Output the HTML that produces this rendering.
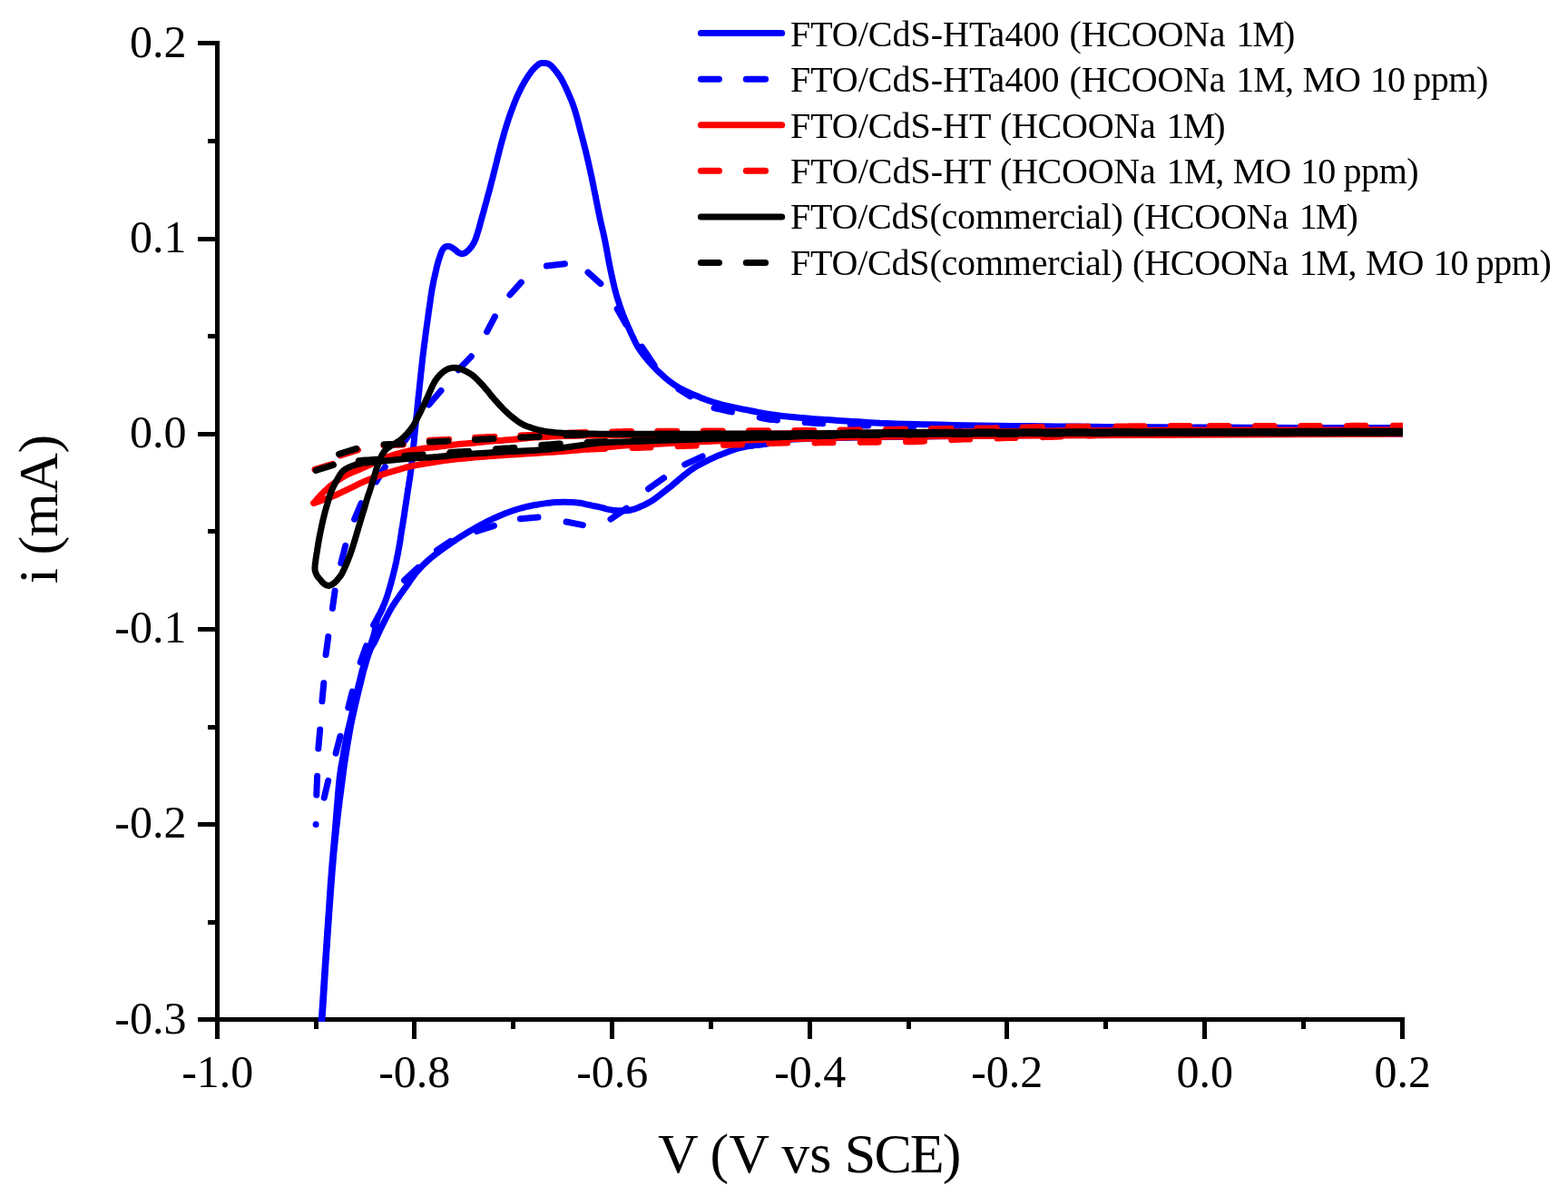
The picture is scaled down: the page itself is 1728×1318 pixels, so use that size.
<!DOCTYPE html>
<html lang="en"><head><meta charset="utf-8"><title>Cyclic voltammetry</title>
<style>html,body{margin:0;padding:0;background:#fff;overflow:hidden}svg{display:block}text{font-family:"Liberation Serif","Times New Roman",serif;fill:#000}</style></head><body>
<svg width="1728" height="1318" viewBox="0 0 1728 1318">
<rect width="1728" height="1318" fill="#fff"/>
<defs><clipPath id="plot"><rect x="237" y="0" width="1309" height="1126"/></clipPath></defs>
<g fill="#000" shape-rendering="crispEdges">
<rect x="237" y="45" width="5" height="1081"/>
<rect x="237" y="1121" width="1311" height="5"/>
<rect x="218" y="45" width="19" height="5"/>
<rect x="229" y="153" width="8" height="5"/>
<rect x="218" y="261" width="19" height="5"/>
<rect x="229" y="368" width="8" height="5"/>
<rect x="218" y="476" width="19" height="5"/>
<rect x="229" y="583" width="8" height="5"/>
<rect x="218" y="691" width="19" height="5"/>
<rect x="229" y="799" width="8" height="5"/>
<rect x="218" y="906" width="19" height="5"/>
<rect x="229" y="1014" width="8" height="5"/>
<rect x="218" y="1121" width="19" height="5"/>
<rect x="237" y="1126" width="5" height="19"/>
<rect x="346" y="1126" width="5" height="8"/>
<rect x="454" y="1126" width="5" height="19"/>
<rect x="563" y="1126" width="5" height="8"/>
<rect x="672" y="1126" width="5" height="19"/>
<rect x="781" y="1126" width="5" height="8"/>
<rect x="890" y="1126" width="5" height="19"/>
<rect x="999" y="1126" width="5" height="8"/>
<rect x="1107" y="1126" width="5" height="19"/>
<rect x="1216" y="1126" width="5" height="8"/>
<rect x="1325" y="1126" width="5" height="19"/>
<rect x="1434" y="1126" width="5" height="8"/>
<rect x="1543" y="1126" width="5" height="19"/>
</g>
<g font-size="50">
<text x="205.4" y="62.6" text-anchor="end">0.2</text>
<text x="205.4" y="277.8" text-anchor="end">0.1</text>
<text x="205.4" y="493" text-anchor="end">0.0</text>
<text x="205.4" y="708.2" text-anchor="end">-0.1</text>
<text x="205.4" y="923.4" text-anchor="end">-0.2</text>
<text x="205.4" y="1138.6" text-anchor="end">-0.3</text>
<text x="239.8" y="1197.6" text-anchor="middle">-1.0</text>
<text x="456.8" y="1197.6" text-anchor="middle">-0.8</text>
<text x="674.8" y="1197.6" text-anchor="middle">-0.6</text>
<text x="892.8" y="1197.6" text-anchor="middle">-0.4</text>
<text x="1109.8" y="1197.6" text-anchor="middle">-0.2</text>
<text x="1327.8" y="1197.6" text-anchor="middle">0.0</text>
<text x="1545.8" y="1197.6" text-anchor="middle">0.2</text>
</g>
<text font-size="62" y="1292.4"><tspan x="725.1">V </tspan><tspan x="782.5">(V </tspan><tspan x="861.3">vs </tspan><tspan x="930.8" textLength="128.7" lengthAdjust="spacing">SCE)</tspan></text>
<text font-size="62" transform="translate(62.8 561) rotate(-90)" text-anchor="middle" textLength="164.5" lengthAdjust="spacing">i (mA)</text>
<g clip-path="url(#plot)" fill="none" stroke-linecap="round" stroke-linejoin="round" stroke-width="7.0">
<path stroke="#0000ff" d="M353.9 1130 L353.9 1130.2 L353.8 1131.2 L353.8 1132 L353.8 1131.7 L353.9 1129.4 L354.3 1124 L354.9 1115 L355.7 1102.9 L356.6 1088.7 L357.6 1073.5 L358.6 1058.3 L359.6 1044 L360.5 1030.1 L361.5 1015.8 L362.5 1001.4 L363.4 987.4 L364.3 974.3 L365.2 962.4 L366 952.1 L366.8 943.1 L367.5 934.9 L368.2 927.1 L368.9 919.4 L369.6 911.2 L370.3 902.4 L371 893.2 L371.8 884.1 L372.5 875.2 L373.2 867.1 L373.9 860 L374.6 854.1 L375.3 849.3 L375.9 845.1 L376.6 841.3 L377.3 837.5 L378 833.5 L378.7 829.2 L379.5 825 L380.3 820.8 L381 816.7 L381.8 812.8 L382.5 809.2 L383.2 806 L383.8 803.2 L384.5 800.6 L385.1 798 L385.8 795.2 L386.5 792.2 L387.3 788.8 L388.1 785.2 L389 781.4 L389.9 777.5 L390.7 773.7 L391.6 770 L392.5 766.3 L393.4 762.4 L394.3 758.6 L395.2 754.9 L396.1 751.5 L396.8 748.5 L397.4 746 L397.9 744 L398.3 742.3 L398.7 740.6 L399.2 738.7 L399.9 736.4 L400.8 733.6 L401.8 730.4 L402.9 727 L404 723.6 L405.1 720.2 L406.2 717 L407.2 714 L408.2 711.2 L409.2 708.4 L410.1 705.6 L411.1 702.8 L411.9 700 L412.7 697 L413.3 693.9 L414 690.8 L414.6 687.8 L415.2 685 L415.9 682.5 L416.6 680.5 L417.3 678.8 L418 677.4 L418.7 676.1 L419.4 674.7 L420.2 673 L421 671.2 L421.8 669.3 L422.7 667.3 L423.6 665.3 L424.4 663.1 L425.3 660.7 L426.2 658.2 L427.1 655.5 L427.9 652.8 L428.8 649.9 L429.7 646.8 L430.6 643.7 L431.5 640.4 L432.4 636.9 L433.3 633.4 L434.2 629.7 L435.1 626.1 L435.9 622.5 L436.7 618.9 L437.4 615.2 L438.2 611.5 L438.9 607.9 L439.5 604.5 L440.1 601.2 L440.6 598.2 L441.1 595.4 L441.4 592.8 L441.8 590.2 L442.2 587.7 L442.6 585 L443 582.4 L443.5 579.8 L443.9 577.3 L444.3 574.6 L444.8 571.7 L445.3 568.5 L445.8 564.9 L446.4 561 L447 556.9 L447.7 552.7 L448.3 548.4 L448.9 544.3 L449.5 540.2 L450.2 536.1 L450.8 532 L451.5 527.9 L452.1 523.9 L452.6 520 L453.1 516.3 L453.5 512.7 L453.9 509.2 L454.2 505.8 L454.6 502.2 L455 498.5 L455.4 494.6 L455.8 490.6 L456.2 486.6 L456.6 482.5 L457 478.4 L457.4 474.3 L457.8 470.3 L458.2 466.3 L458.6 462.3 L459 458.3 L459.5 454.2 L459.9 450 L460.3 445.8 L460.7 441.7 L461.1 437.6 L461.6 433.2 L462.1 428.6 L462.6 423.6 L463.2 418.1 L463.8 412.2 L464.5 406 L465.2 399.6 L465.9 393.2 L466.7 386.9 L467.5 380.5 L468.4 373.9 L469.2 367.2 L470.1 360.6 L471 354.3 L471.8 348.5 L472.5 343.1 L473.3 337.9 L474 332.9 L474.6 328.3 L475.3 324 L475.9 320.1 L476.5 316.6 L477.1 313.7 L477.6 311 L478.1 308.5 L478.7 306 L479.3 303.4 L479.9 300.6 L480.6 297.7 L481.2 294.8 L481.9 292 L482.7 289.2 L483.4 286.7 L484.2 284.3 L485 281.9 L485.8 279.6 L486.6 277.5 L487.5 275.7 L488.4 274.2 L489.3 273.1 L490.3 272.3 L491.3 271.8 L492.3 271.6 L493.3 271.4 L494.3 271.4 L495.3 271.5 L496.2 271.9 L497.2 272.3 L498.2 272.9 L499.1 273.6 L500.1 274.2 L501.1 274.9 L502.1 275.7 L503.1 276.6 L504.1 277.4 L505.1 278.2 L506 278.7 L506.9 279.1 L507.7 279.4 L508.5 279.6 L509.3 279.7 L510.1 279.6 L511 279.4 L511.9 279 L512.9 278.5 L513.8 277.8 L514.8 277 L515.8 276.1 L516.8 275.1 L517.8 274 L518.8 272.7 L519.9 271.4 L520.9 269.9 L521.8 268.3 L522.7 266.7 L523.5 265 L524.2 263.2 L524.9 261.3 L525.5 259.3 L526.1 257.2 L526.8 255 L527.5 252.8 L528.1 250.7 L528.7 248.5 L529.3 246.1 L530.1 243.3 L531 240 L532.1 236.1 L533.4 231.5 L534.7 226.6 L536.1 221.6 L537.4 216.6 L538.7 212 L539.9 207.7 L540.9 203.5 L542 199.4 L543.1 195.3 L544.1 191.1 L545.2 186.9 L546.3 182.5 L547.4 178 L548.5 173.4 L549.7 168.9 L550.8 164.5 L551.9 160.2 L553 156.1 L554.1 152.2 L555.2 148.3 L556.2 144.5 L557.4 140.7 L558.6 136.8 L559.9 132.9 L561.2 128.8 L562.6 124.8 L564.1 120.9 L565.5 117.1 L566.9 113.5 L568.3 110.1 L569.6 106.9 L571 103.8 L572.4 100.9 L573.8 98 L575.3 95.1 L576.9 92.2 L578.6 89.3 L580.3 86.5 L582 83.8 L583.7 81.4 L585.3 79.2 L586.8 77.3 L588.3 75.6 L589.8 74.1 L591.1 72.9 L592.4 71.8 L593.6 70.9 L594.6 70.2 L595.4 69.8 L596.2 69.6 L596.9 69.5 L597.7 69.5 L598.6 69.5 L599.6 69.5 L600.7 69.6 L601.8 69.7 L603 69.9 L604.2 70.3 L605.3 70.9 L606.4 71.6 L607.5 72.5 L608.6 73.6 L609.6 74.7 L610.8 76.1 L612 77.6 L613.3 79.2 L614.5 80.8 L615.8 82.6 L617.2 84.7 L618.7 87.1 L620.3 90.1 L622.1 93.7 L624.1 97.8 L626.1 102.4 L628.2 107.1 L630.2 112 L632 116.8 L633.6 121.6 L635 126.4 L636.4 131.4 L637.7 136.4 L639 141.6 L640.4 146.8 L641.8 152.2 L643.2 157.7 L644.7 163.4 L646.1 169.1 L647.4 174.7 L648.7 180.2 L649.9 185.7 L651.1 191.2 L652.3 196.6 L653.4 202 L654.4 207.1 L655.4 212 L656.3 216.5 L657.1 220.7 L657.9 224.6 L658.7 228.6 L659.5 232.6 L660.4 237 L661.4 241.7 L662.5 246.7 L663.7 251.7 L664.9 256.8 L666 261.9 L667 266.7 L667.9 271.3 L668.7 275.8 L669.5 280.2 L670.3 284.6 L671.1 289 L672 293.4 L672.9 297.9 L673.9 302.4 L674.9 307 L675.9 311.4 L676.9 315.8 L678 320.1 L679.1 324.2 L680.3 328.3 L681.6 332.2 L682.8 336.1 L684.1 339.8 L685.4 343.5 L686.7 347 L688.1 350.4 L689.4 353.7 L690.8 357 L692.3 360.2 L693.8 363.5 L695.3 366.9 L696.9 370.3 L698.5 373.8 L700.2 377.2 L701.9 380.5 L703.8 383.6 L705.8 386.6 L707.9 389.5 L710 392.3 L712.3 395 L714.5 397.7 L716.7 400.2 L718.9 402.6 L721 404.9 L723.2 407.2 L725.4 409.3 L727.7 411.4 L730 413.5 L732.3 415.6 L734.7 417.6 L737.1 419.6 L739.6 421.5 L742.2 423.4 L745 425.2 L748 427 L751.1 428.7 L754.4 430.4 L757.8 432 L761.4 433.6 L765.1 435.2 L768.9 436.8 L772.8 438.4 L776.8 440 L781 441.5 L785.5 443 L790.2 444.4 L795.3 445.8 L800.7 447.1 L806.4 448.4 L812.2 449.6 L817.9 450.8 L823.6 451.9 L829.2 453 L834.7 454.1 L840.3 455.1 L845.9 456.1 L851.4 457 L857 457.8 L862.4 458.5 L867.5 459.1 L872.6 459.6 L878 460.1 L883.8 460.6 L890.3 461.1 L897.8 461.7 L906.2 462.2 L915.1 462.8 L924 463.4 L932.6 463.9 L940.4 464.4 L947 464.8 L952.6 465.2 L957.8 465.6 L963.4 465.9 L969.9 466.3 L978 466.6 L987.7 466.9 L998.4 467.2 L1010.1 467.6 L1022.7 467.8 L1036 468.1 L1050 468.4 L1065 468.7 L1081 468.9 L1097.8 469.2 L1115 469.4 L1132.5 469.6 L1150 469.8 L1167.1 470 L1184.1 470.1 L1201.4 470.2 L1219.2 470.4 L1237.9 470.5 L1258 470.6 L1279.6 470.7 L1302.5 470.9 L1326.4 471 L1350.8 471.1 L1375.5 471.2 L1400 471.3 L1426.3 471.4 L1455 471.4 L1483.9 471.4 L1510.8 471.5 L1533.6 471.5 L1550 471.5"/>
<path stroke="#0000ff" d="M1550 478 L1511.3 478.1 L1457.4 478.1 L1393.8 478.2 L1325.9 478.4 L1259.5 478.6 L1200 479 L1144.3 479.5 L1087.3 480 L1031.6 480.7 L980.1 481.4 L935.3 482.2 L900 483 L876 484 L861.6 485.1 L853.9 486.3 L850.3 487.5 L847.9 488.5 L844 489.3 L839.6 489.8 L837.2 490 L836 490.1 L835.5 490.2 L834.9 490.2 L833.6 490.4 L831.7 490.6 L829.8 490.9 L827.9 491.2 L825.9 491.5 L823.9 491.8 L822 492.2 L820.1 492.6 L818.2 493 L816.2 493.4 L814.3 493.9 L812.4 494.4 L810.5 495 L808.6 495.6 L806.6 496.3 L804.7 497 L802.8 497.7 L800.8 498.4 L798.9 499.2 L797 500 L795 500.7 L793.1 501.5 L791.2 502.3 L789.2 503.1 L787.3 504 L785.4 504.9 L783.4 505.8 L781.5 506.7 L779.6 507.6 L777.6 508.6 L775.7 509.6 L773.8 510.6 L771.9 511.6 L770 512.6 L768 513.7 L766.1 514.8 L764.2 516 L762.3 517.3 L760.3 518.7 L758.4 520.2 L756.5 521.7 L754.5 523.2 L752.6 524.8 L750.7 526.4 L748.7 528 L746.8 529.7 L744.9 531.3 L742.9 533 L741 534.6 L739.1 536.2 L737.1 537.7 L735.2 539.3 L733.3 540.8 L731.3 542.3 L729.4 543.8 L727.5 545.3 L725.6 546.8 L723.6 548.2 L721.7 549.6 L719.8 551 L717.9 552.2 L716 553.3 L714 554.4 L712.1 555.4 L710.2 556.4 L708.2 557.2 L706.3 558.1 L704.4 558.9 L702.4 559.7 L700.5 560.5 L698.6 561.2 L696.6 561.7 L694.7 562.2 L692.8 562.5 L690.8 562.7 L688.9 562.8 L687 562.9 L685 562.8 L683.1 562.8 L681.2 562.7 L679.3 562.6 L677.4 562.4 L675.4 562.2 L673.5 561.9 L671.6 561.6 L669.7 561.2 L667.8 560.8 L665.9 560.2 L664 559.7 L662 559.2 L660 558.7 L657.9 558.2 L655.7 557.8 L653.4 557.3 L651.2 556.8 L649 556.4 L647 556 L645.2 555.6 L643.8 555.2 L642.3 554.9 L640.8 554.5 L639 554.2 L636.7 554 L633.8 553.8 L630.5 553.6 L626.9 553.4 L623.2 553.3 L619.4 553.3 L615.8 553.4 L612.3 553.6 L608.9 553.8 L605.4 554.2 L601.9 554.6 L598.5 555.1 L595 555.6 L591.5 556.2 L588.1 556.8 L584.6 557.5 L581.1 558.2 L577.7 559.1 L574.2 560 L570.7 561 L567.2 562.1 L563.8 563.3 L560.3 564.5 L556.8 565.8 L553.3 567.2 L549.8 568.7 L546.4 570.2 L542.9 571.8 L539.4 573.5 L536 575.2 L532.5 577 L529 578.9 L525.4 580.9 L521.8 583 L518.3 585 L514.9 587.1 L511.7 589 L508.8 590.8 L506.1 592.4 L503.6 594.1 L501.1 595.7 L498.4 597.5 L495.5 599.6 L492.2 601.9 L488.6 604.5 L484.8 607.2 L481.1 610 L477.5 612.8 L474.3 615.4 L471.4 617.9 L468.7 620.4 L466.2 622.8 L463.8 625.2 L461.6 627.7 L459.4 630.1 L457.4 632.6 L455.5 635.1 L453.7 637.6 L452 640.1 L450.4 642.5 L448.8 644.8 L447.3 646.9 L445.8 648.9 L444.4 650.8 L443.1 652.7 L441.7 654.6 L440.3 656.6 L438.9 658.7 L437.4 660.8 L435.9 663 L434.5 665.2 L433.1 667.3 L431.8 669.4 L430.6 671.4 L429.5 673.3 L428.5 675.2 L427.5 677.1 L426.5 679 L425.5 681 L424.4 683.1 L423.4 685.2 L422.3 687.3 L421.2 689.5 L420.2 691.6 L419.1 693.8 L418.1 696 L417 698.3 L416 700.6 L415 702.8 L414 705 L413 707 L412.1 708.7 L411.2 710.2 L410.3 711.6 L409.4 713.1 L408.5 714.8 L407.6 717 L406.6 719.8 L405.5 723 L404.4 726.6 L403.3 730.1 L402.4 733.5 L401.5 736.4 L400.8 738.7 L400.3 740.6 L399.9 742.3 L399.5 744 L399 746 L398.4 748.5 L397.7 751.5 L396.8 754.9 L395.9 758.6 L395 762.4 L394.1 766.3 L393.2 770 L392.3 773.7 L391.4 777.5 L390.5 781.4 L389.7 785.2 L388.8 788.8 L388.1 792.2 L387.5 795.2 L386.9 798 L386.4 800.6 L386 803.2 L385.5 806 L384.9 809.2 L384.3 812.8 L383.6 816.7 L382.9 820.8 L382.2 825 L381.6 829.2 L380.9 833.5 L380.3 837.5 L379.7 841.3 L379.2 845.1 L378.6 849.3 L378 854.1 L377.2 860 L376.3 867.1 L375.2 875.2 L374.1 884.1 L373 893.2 L371.9 902.4 L370.9 911.2 L370 919.4 L369.2 927.1 L368.4 934.9 L367.6 943.1 L366.9 952.1 L366 962.4 L365.1 974.3 L364.1 987.4 L363.1 1001.4 L362.1 1015.8 L361.1 1030.1 L360.2 1044 L359.2 1058.3 L358.2 1073.5 L357.3 1088.7 L356.4 1102.9 L355.6 1115 L355 1124 L354.7 1129.4 L354.5 1131.7 L354.5 1132 L354.5 1131.2 L354.6 1130.2 L354.6 1130"/>
<path stroke="#0000ff" d="M348.1 908.5 L348.1 908.5 M348.8 876.1 L349.6 855.2 M350.8 825 L352.7 804 M354.9 772.8 L356.8 752.8 M359.1 721.6 L361.8 701.6 M366.4 670.4 L369.1 651.1 M375.8 620.6 L380.7 601.4 M390.6 572.2 L398.1 554.6 M414.6 530.9 L424.3 514.6 M443.8 489 L456.2 472 M472.6 446 L486 430.5 M505.2 407.7 L519.3 392.8 M536.6 365.7 L545.4 348.9 M561.9 325 L574.4 311.1 M602.4 293 L622.4 290.7 M648 300.2 L661.9 312.6 M680.2 340.4 L689.9 357.4 M707.4 382.1 L721 402.4 M747.9 428.7 L760.7 436.9 M822.3 491.8 L842.7 489.2 M754.7 511.9 L774.2 502.9 M714.6 538.7 L731.6 526.7 M673 572.1 L690.5 560.1 M624.1 575 L642.3 578.6 M573.4 571.8 L593 570 M525.4 585.4 L544.5 579.3 M481.5 606.5 L496.5 596.5 M445.5 639.6 L460.8 625.4 M411.6 688.9 L421.4 671.1 M397.2 729.9 L403.6 711.8 M383.8 779.9 L388.3 762.1 M370.1 830.1 L375 811.2 M357.2 879.2 L361.7 860.3 M787 449.6 L788.8 450 L791.3 450.5 L794.1 451.2 L796.8 451.8 L799.4 452.4 L802.2 453 L804.7 453.5 L806.5 453.9 M837.1 460.2 L838.9 460.6 L841.4 461.1 L844.2 461.6 L846.9 462.1 L849.5 462.4 L852.3 462.6 L854.8 462.8 L856.6 462.9 M887.2 465.5 L889 465.6 L891.5 465.8 L894.3 466.1 L897 466.2 L899.6 466.4 L902.4 466.5 L904.9 466.6 L906.7 466.7 M937.3 468.2 L939.1 468.3 L941.6 468.4 L944.4 468.6 L947 468.7 L949.7 468.8 L952.5 468.9 L955 468.9 L956.8 468.9 M987.4 469.7 L989.2 469.7 L991.7 469.8 L994.5 469.9 L997.1 469.9 L999.8 470 L1002.6 470 L1005.1 470.1 L1006.9 470.1 M1037.5 470.6 L1039.3 470.6 L1041.8 470.6 L1044.6 470.7 L1047.2 470.7 L1049.9 470.7 L1052.7 470.8 L1055.2 470.8 L1057 470.9 M1087.6 471.3 L1089.4 471.3 L1091.9 471.4 L1094.7 471.4 L1097.3 471.5 L1100 471.5 L1102.8 471.5 L1105.3 471.5 L1107.1 471.6 M1137.7 471.8 L1139.5 471.8 L1142 471.8 L1144.8 471.8 L1147.5 471.9 L1150.1 471.9 L1152.9 471.9 L1155.4 471.9 L1157.2 471.9 M1187.8 472.2 L1189.6 472.2 L1192.1 472.2 L1194.9 472.2 L1197.5 472.2 L1200.2 472.3 L1203 472.3 L1205.5 472.3 L1207.3 472.3 M1237.9 472.5 L1239.7 472.5 L1242.2 472.6 L1245 472.6 L1247.7 472.6 L1250.3 472.6 L1253.1 472.6 L1255.6 472.7 L1257.4 472.7 M1288 472.9 L1289.8 472.9 L1292.3 472.9 L1295.1 473 L1297.8 473 L1300.4 473 L1303.2 473 L1305.7 473 L1307.5 473 M1338.1 473.2 L1339.9 473.2 L1342.4 473.2 L1345.2 473.2 L1347.8 473.2 L1350.5 473.2 L1353.3 473.2 L1355.8 473.2 L1357.6 473.2 M1388.2 473.4 L1390 473.4 L1392.5 473.4 L1395.3 473.4 L1398 473.4 L1400.6 473.4 L1403.4 473.4 L1405.9 473.4 L1407.7 473.4 M1438.3 473.6 L1440.1 473.6 L1442.6 473.6 L1445.4 473.6 L1448.1 473.6 L1450.7 473.6 L1453.5 473.6 L1456 473.6 L1457.8 473.6 M1488.4 473.8 L1490.2 473.8 L1492.7 473.8 L1495.5 473.8 L1498.2 473.8 L1500.8 473.8 L1503.6 473.8 L1506.1 473.8 L1507.9 473.8 M1538.5 474 L1540.3 474 L1542.8 474 L1545.6 474 L1548.2 474 L1550.9 474 L1553.7 474 L1556.2 474 L1558 474"/>
<path stroke="#ff0000" d="M345.8 554.4 L346.7 553.4 L347.9 551.9 L349.3 550.2 L350.9 548.4 L352.6 546.5 L354.3 544.7 L356.1 542.9 L358 541.1 L360 539.2 L362 537.3 L364.2 535.5 L366.4 533.7 L368.7 532 L371 530.3 L373.4 528.6 L375.9 527 L378.4 525.5 L381 524 L383.7 522.6 L386.6 521.3 L389.5 520.1 L392.4 518.9 L395.3 517.7 L398 516.5 L400.6 515.3 L403.2 514.2 L405.6 513.1 L408.1 512 L410.5 510.9 L413 509.8 L415.4 508.7 L417.8 507.6 L420.2 506.5 L422.6 505.5 L425.1 504.4 L427.8 503.4 L430.7 502.4 L433.7 501.4 L436.8 500.4 L440 499.5 L443.2 498.6 L446.3 497.8 L449.4 497.1 L452.5 496.5 L455.6 495.9 L458.6 495.4 L461.7 494.9 L464.8 494.4 L467.9 494 L471 493.6 L474 493.3 L477.1 493 L480.2 492.7 L483.3 492.3 L486.4 491.9 L489.5 491.5 L492.6 491.1 L495.7 490.7 L498.8 490.3 L501.9 489.9 L505 489.6 L508 489.3 L511.1 489 L514.2 488.8 L517.3 488.5 L520.4 488.2 L523.6 487.9 L526.8 487.6 L530.1 487.2 L533.4 486.9 L536.7 486.6 L540 486.3 L543.2 486 L546.3 485.8 L549.4 485.6 L552.6 485.4 L556.1 485.1 L560 484.8 L564.3 484.4 L568.9 483.9 L573.8 483.4 L578.9 482.9 L584.3 482.4 L590 482 L595.9 481.7 L601.9 481.4 L608.1 481.1 L614.8 480.8 L622.1 480.6 L630 480.4 L637.1 480.2 L643 480.1 L649.4 480 L658.1 479.9 L671.1 479.7 L690 479.5 L716.4 479.2 L749.3 478.9 L786.2 478.6 L825.2 478.2 L863.8 477.8 L900 477.5 L934.5 477.2 L969.3 476.8 L1003.8 476.5 L1037.4 476.1 L1069.7 475.8 L1100 475.5 L1126.2 475.2 L1148.1 475 L1168.8 474.8 L1190.7 474.5 L1216.9 474.4 L1250 474.2 L1294.8 474.1 L1350 474 L1409.4 473.9 L1466.7 473.9 L1515.6 473.8 L1550 473.8"/>
<path stroke="#ff0000" d="M345.8 554.4 L348.1 553.6 L351.2 552.6 L355 551.3 L358.9 549.9 L362.9 548.5 L366.4 547.1 L369.6 545.7 L372.7 544.3 L375.8 542.9 L378.8 541.4 L381.8 540 L384.6 538.6 L387.3 537.3 L389.8 536.1 L392.3 534.8 L394.7 533.6 L397.3 532.4 L400 531.2 L402.9 529.9 L405.9 528.7 L409.1 527.4 L412.2 526.1 L415.4 524.9 L418.5 523.8 L421.6 522.8 L424.7 521.8 L427.7 520.8 L430.8 520 L433.9 519.1 L437 518.2 L440.1 517.3 L443.2 516.4 L446.3 515.5 L449.4 514.7 L452.5 513.9 L455.6 513.2 L458.7 512.6 L461.8 512 L464.9 511.5 L467.9 511 L471 510.6 L474.1 510.1 L477.2 509.6 L480.3 509.1 L483.4 508.6 L486.4 508.1 L489.5 507.6 L492.6 507.2 L495.7 506.8 L498.8 506.5 L501.9 506.1 L504.9 505.8 L508 505.5 L511.1 505.2 L514 504.9 L516.8 504.6 L519.6 504.4 L522.6 504.1 L525.8 503.8 L529.6 503.5 L534 503.2 L538.9 502.8 L544.1 502.4 L549.5 502 L554.8 501.7 L560 501.3 L564.9 501 L569.7 500.7 L574.4 500.4 L579.3 500.1 L584.4 499.8 L590 499.4 L596 499 L602.2 498.6 L608.8 498.2 L615.6 497.7 L622.6 497.2 L630 496.6 L637.8 495.9 L645.9 495 L654.4 494.1 L663 493.2 L671.6 492.4 L680 491.7 L688.3 491.1 L696.7 490.6 L705 490.2 L713.3 489.8 L721.7 489.4 L730 489 L738.3 488.5 L746.6 488.1 L754.9 487.6 L763.2 487.2 L771.6 486.8 L780 486.4 L788.6 486.1 L797.3 485.8 L806 485.5 L814.7 485.3 L823.4 485 L832 484.8 L840.4 484.6 L848.8 484.3 L857.1 484.1 L865.4 483.9 L873.7 483.6 L882 483.4 L890.1 483.2 L898 482.9 L905.9 482.7 L914 482.4 L922.6 482.2 L932 482 L940.2 481.8 L946.6 481.7 L953.5 481.5 L963.2 481.4 L977.9 481.2 L1000 481 L1030.6 480.8 L1068 480.5 L1110.5 480.3 L1156.2 480 L1203.3 479.8 L1250 479.5 L1300.6 479.2 L1357.4 478.9 L1415.6 478.7 L1470.4 478.4 L1516.8 478.2 L1550 478"/>
<path stroke="#ff0000" d="M347 517.4 L366.5 511.4 M375 501.9 L394.4 495.9 M422.9 490.7 L424.8 490.6 L427.6 490.6 L430.7 490.5 L433.6 490.4 L436.5 490.3 L439.6 490.2 L442.4 490.1 L444.3 490.1 M473.2 485.3 L475.1 485.2 L477.9 485 L481 484.9 L483.9 484.8 L486.8 484.7 L489.9 484.5 L492.7 484.4 L494.6 484.3 M523.5 482.2 L525.4 482.2 L528.2 482 L531.3 481.9 L534.2 481.8 L537.1 481.6 L540.2 481.5 L543 481.4 L544.9 481.3 M573.8 479.9 L575.7 479.8 L578.5 479.7 L581.6 479.6 L584.5 479.5 L587.4 479.4 L590.5 479.3 L593.3 479.2 L595.2 479.1 M624.1 477.3 L626 477.2 L628.8 477.1 L631.9 477 L634.8 476.9 L637.7 476.8 L640.8 476.7 L643.6 476.6 L645.5 476.5 M674.4 475.9 L676.3 475.9 L679.1 475.8 L682.2 475.7 L685.1 475.7 L688 475.6 L691.1 475.6 L693.9 475.5 L695.8 475.5 M724.7 475.3 L726.6 475.3 L729.4 475.3 L732.5 475.3 L735.4 475.2 L738.3 475.2 L741.4 475.2 L744.2 475.2 L746.1 475.2 M775 475.1 L776.9 475.1 L779.7 475 L782.8 475 L785.7 475 L788.6 475 L791.7 475 L794.5 475 L796.4 475 M825.3 474.8 L827.2 474.8 L830 474.8 L833.1 474.8 L836 474.8 L838.9 474.8 L842 474.8 L844.8 474.7 L846.7 474.7 M875.6 474.6 L877.5 474.6 L880.3 474.6 L883.4 474.6 L886.3 474.6 L889.2 474.5 L892.3 474.5 L895.1 474.5 L897 474.5 M925.9 474.1 L927.8 474.1 L930.6 474 L933.7 474 L936.6 474 L939.5 473.9 L942.6 473.9 L945.4 473.8 L947.3 473.8 M976.2 473.4 L978.1 473.3 L980.9 473.3 L984 473.2 L986.9 473.2 L989.8 473.2 L992.9 473.1 L995.7 473.1 L997.6 473 M1026.5 472.6 L1028.4 472.5 L1031.2 472.5 L1034.3 472.5 L1037.2 472.4 L1040.1 472.4 L1043.2 472.4 L1046 472.3 L1047.9 472.3 M1076.8 472.1 L1078.7 472.1 L1081.5 472.1 L1084.6 472 L1087.5 472 L1090.4 471.9 L1093.5 471.9 L1096.3 471.8 L1098.2 471.7 M1127.1 471 L1129 470.9 L1131.8 470.9 L1134.9 470.8 L1137.8 470.7 L1140.7 470.7 L1143.8 470.6 L1146.6 470.6 L1148.5 470.6 M1177.4 470.3 L1179.3 470.3 L1182.1 470.3 L1185.2 470.2 L1188.1 470.2 L1191 470.2 L1194.1 470.2 L1196.9 470.2 L1198.8 470.1 M1230 469.9 L1232.8 469.9 L1236.8 469.9 L1241.3 469.9 L1245.5 469.8 L1249.7 469.8 L1254.2 469.8 L1258.2 469.8 L1261 469.7 M1290.3 469.6 L1292.2 469.5 L1294.8 469.5 L1297.8 469.5 L1300.6 469.5 L1303.4 469.5 L1306.4 469.5 L1309 469.5 L1310.9 469.5 M1333.3 469.5 L1335.2 469.5 L1337.8 469.5 L1340.8 469.5 L1343.6 469.5 L1346.4 469.5 L1349.4 469.5 L1352 469.5 L1353.9 469.5 M1383.5 469.4 L1385.4 469.4 L1388 469.4 L1391 469.4 L1393.8 469.4 L1396.6 469.4 L1399.6 469.4 L1402.2 469.4 L1404.1 469.4 M1433.8 469.4 L1435.7 469.4 L1438.3 469.4 L1441.3 469.4 L1444.1 469.4 L1446.9 469.4 L1449.9 469.4 L1452.5 469.4 L1454.4 469.4 M1484.5 469.4 L1486.4 469.4 L1489 469.3 L1492 469.3 L1494.8 469.3 L1497.6 469.3 L1500.6 469.3 L1503.2 469.3 L1505.1 469.3 M1535.2 469.3 L1537.1 469.3 L1539.7 469.3 L1542.7 469.3 L1545.5 469.3 L1548.3 469.3 L1551.3 469.3 L1553.9 469.3 L1555.8 469.3 M394 510.5 L395.8 510.2 L398.4 509.7 L401.3 509.2 L404.1 508.8 L406.9 508.4 L409.8 508.1 L412.4 507.9 L414.2 507.7 M444.3 504.7 L446.1 504.6 L448.7 504.3 L451.6 504 L454.4 503.8 L457.2 503.5 L460.1 503.3 L462.7 503.1 L464.5 502.9 M494.6 500.6 L496.4 500.4 L499 500.2 L501.9 500 L504.7 499.8 L507.5 499.6 L510.4 499.4 L513 499.3 L514.8 499.2 M544.9 497.6 L546.7 497.5 L549.3 497.4 L552.2 497.2 L555 497.1 L557.8 497 L560.7 496.9 L563.3 496.9 L565.1 496.8 M595.2 496.2 L597 496.2 L599.6 496.1 L602.5 496.1 L605.3 496 L608.1 496 L611 496 L613.6 496 L615.4 495.9 M646.7 495.3 L648.5 495.2 L651.1 495.1 L654 494.9 L656.7 494.8 L659.4 494.7 L662.3 494.6 L664.9 494.5 L666.7 494.4 M697 493.6 L698.7 493.5 L701.3 493.4 L704.2 493.4 L707 493.3 L709.7 493.2 L712.6 493 L715.2 492.9 L717 492.9 M747.2 491.7 L749 491.6 L751.6 491.5 L754.5 491.4 L757.2 491.3 L759.9 491.2 L762.8 491.2 L765.4 491.1 L767.2 491.1 M797.5 490.4 L799.2 490.4 L801.8 490.3 L804.7 490.3 L807.5 490.2 L810.2 490.1 L813.1 490 L815.7 489.9 L817.5 489.8 M847.7 488.6 L849.5 488.5 L852.1 488.4 L855 488.3 L857.7 488.2 L860.4 488.2 L863.3 488.1 L865.9 488.1 L867.7 488.1 M898 487.9 L899.7 487.9 L902.3 487.8 L905.2 487.8 L908 487.8 L910.7 487.8 L913.6 487.7 L916.2 487.7 L918 487.7 M948.2 487.4 L950 487.3 L952.6 487.3 L955.5 487.3 L958.2 487.2 L960.9 487.2 L963.8 487.2 L966.4 487.2 L968.2 487.1 M998.5 486.8 L1000.2 486.8 L1002.8 486.8 L1005.7 486.7 L1008.5 486.7 L1011.2 486.6 L1014.1 486.4 L1016.7 486.3 L1018.5 486.2 M1048.7 484.7 L1050.5 484.6 L1053.1 484.5 L1056 484.3 L1058.7 484.2 L1061.4 484.1 L1064.3 484 L1066.9 483.9 L1068.7 483.9 M1099 482.9 L1100.7 482.9 L1103.3 482.8 L1106.2 482.7 L1109 482.6 L1111.7 482.5 L1114.6 482.5 L1117.2 482.4 L1119 482.4 M1149.2 481.7 L1151 481.6 L1153.6 481.6 L1156.5 481.5 L1159.2 481.4 L1161.9 481.3 L1164.8 481.2 L1167.4 481.1 L1169.2 481.1 M1199.5 480 L1201.2 479.9 L1203.8 479.8 L1206.7 479.7 L1209.5 479.6 L1212.2 479.6 L1215.1 479.5 L1217.7 479.5 L1219.5 479.5 M1249.7 479.1 L1251.5 479.1 L1254.1 479.1 L1257 479 L1259.7 479 L1262.4 479 L1265.3 478.9 L1267.9 478.9 L1269.7 478.9 M1300 478.5 L1301.7 478.5 L1304.3 478.5 L1307.2 478.5 L1310 478.5 L1312.7 478.5 L1315.6 478.5 L1318.2 478.5 L1320 478.5 M1350.2 478.4 L1352 478.4 L1354.6 478.4 L1357.5 478.4 L1360.2 478.4 L1362.9 478.4 L1365.8 478.4 L1368.4 478.4 L1370.2 478.4 M1400.5 478.3 L1402.2 478.3 L1404.8 478.3 L1407.7 478.3 L1410.5 478.3 L1413.2 478.3 L1416.1 478.3 L1418.7 478.3 L1420.5 478.3 M1450.7 478.2 L1452.5 478.2 L1455.1 478.2 L1458 478.2 L1460.7 478.2 L1463.4 478.2 L1466.3 478.2 L1468.9 478.2 L1470.7 478.2 M1501 478.1 L1502.7 478.1 L1505.3 478.1 L1508.2 478.1 L1511 478.1 L1513.7 478.1 L1516.6 478.1 L1519.2 478.1 L1521 478.1"/>
<path stroke="#000000" d="M1550 477.2 L1533.7 477.2 L1511.1 477.2 L1484.4 477.2 L1455.6 477.2 L1426.7 477.2 L1400 477.2 L1375 477.2 L1350 477.2 L1325 477.3 L1300 477.3 L1275 477.3 L1250 477.4 L1224.7 477.5 L1199 477.5 L1173.2 477.6 L1147.9 477.7 L1123.4 477.8 L1100 477.9 L1077.4 478 L1055.3 478.1 L1033.9 478.2 L1013.6 478.3 L994.9 478.4 L978 478.6 L963.5 478.8 L951.3 479 L940.6 479.2 L930.6 479.5 L920.7 479.7 L910 480 L898.6 480.3 L887 480.6 L875.4 481 L864.1 481.4 L853.2 481.7 L843 482 L833.6 482.3 L824.8 482.5 L816.5 482.7 L808.4 482.9 L800.3 483.1 L792 483.3 L783.5 483.6 L775 483.8 L766.5 484.1 L758 484.4 L749.5 484.7 L741 485 L732.3 485.3 L723.2 485.6 L714.2 485.9 L705.4 486.2 L697.3 486.5 L690 486.8 L683.9 487 L678.7 487.1 L674.1 487.3 L669.8 487.4 L665.2 487.7 L660 488.1 L654.2 488.7 L648 489.6 L641.6 490.5 L635.1 491.4 L628.8 492.3 L622.8 493.1 L617 493.7 L611.4 494.3 L605.9 494.9 L600.6 495.4 L595.3 495.8 L590 496.2 L584.8 496.5 L579.8 496.8 L574.8 497 L569.9 497.2 L565 497.4 L560 497.6 L554.8 497.9 L549.5 498.3 L544.1 498.6 L538.9 499 L534 499.3 L529.6 499.6 L525.8 499.8 L522.6 500 L519.6 500.1 L516.8 500.2 L514 500.4 L511.1 500.6 L508 500.9 L504.9 501.1 L501.9 501.5 L498.8 501.8 L495.7 502.1 L492.6 502.4 L489.5 502.7 L486.4 503 L483.4 503.3 L480.3 503.5 L477.2 503.8 L474.1 504 L471 504.2 L467.9 504.3 L464.9 504.4 L461.8 504.6 L458.7 504.7 L455.6 504.9 L452.5 505.1 L449.4 505.4 L446.3 505.7 L443.2 506 L440.1 506.3 L437 506.6 L433.9 506.9 L430.8 507.3 L427.7 507.6 L424.7 507.9 L421.6 508.3 L418.5 508.6 L415.3 508.9 L412.1 509.2 L408.8 509.4 L405.7 509.7 L402.7 510 L400 510.4 L397.6 510.8 L395.4 511.3 L393.4 511.8 L391.6 512.3 L389.8 512.9 L388 513.6 L386.2 514.3 L384.5 515 L382.9 515.8 L381.3 516.6 L379.9 517.5 L378.5 518.6 L377.3 519.8 L376.2 521.1 L375.2 522.4 L374.3 523.9 L373.3 525.5 L372.3 527.3 L371.2 529.2 L370 531.3 L368.8 533.5 L367.7 535.8 L366.5 538.2 L365.5 540.6 L364.5 543.1 L363.6 545.7 L362.8 548.3 L362 551 L361.2 553.7 L360.4 556.4 L359.6 559 L358.9 561.6 L358.2 564.2 L357.5 566.8 L356.9 569.4 L356.2 572.2 L355.5 575.1 L354.8 578.2 L354.2 581.3 L353.5 584.4 L352.9 587.4 L352.3 590.3 L351.8 593 L351.3 595.6 L350.9 598.1 L350.5 600.5 L350.1 603 L349.7 605.5 L349.3 608.1 L348.8 610.9 L348.4 613.7 L348 616.3 L347.7 618.7 L347.4 620.7 L347.2 622.2 L347.1 623.4 L347 624.3 L347 625.1 L347 625.8 L347 626.6 L347 627.4 L347.1 628.1 L347.2 628.8 L347.4 629.5 L347.6 630.1 L347.8 630.8 L348.1 631.5 L348.4 632.3 L348.7 633 L349.1 633.7 L349.5 634.4 L349.9 635.1 L350.3 635.7 L350.8 636.3 L351.2 636.9 L351.7 637.4 L352.2 637.9 L352.6 638.4 L353 638.9 L353.3 639.3 L353.7 639.7 L354 640.1 L354.4 640.6 L354.8 641 L355.2 641.5 L355.7 642 L356.2 642.5 L356.7 642.9 L357.2 643.4 L357.8 643.8 L358.4 644.2 L359.1 644.5 L359.8 644.9 L360.6 645.1 L361.3 645.3 L362 645.4 L362.7 645.4 L363.4 645.2 L364.1 645 L364.8 644.6 L365.5 644.3 L366.2 643.9 L366.9 643.5 L367.6 643 L368.3 642.4 L369 641.9 L369.6 641.2 L370.3 640.6 L371 639.9 L371.6 639.1 L372.3 638.3 L372.9 637.5 L373.5 636.7 L374.1 636 L374.6 635.4 L375 634.9 L375.4 634.5 L375.7 633.9 L376.2 633.2 L376.8 632.1 L377.5 630.7 L378.4 629 L379.3 627.1 L380.2 625.1 L381.2 622.9 L382.1 620.7 L383 618.4 L384 615.9 L385 613.3 L386 610.7 L386.9 608.1 L387.8 605.5 L388.6 603 L389.5 600.4 L390.2 597.9 L391 595.4 L391.7 592.8 L392.5 590.3 L393.2 587.8 L394 585.3 L394.7 582.7 L395.4 580.2 L396.2 577.7 L396.9 575.2 L397.7 572.6 L398.5 570 L399.3 567.3 L400.1 564.7 L400.9 562.3 L401.6 560 L402.2 558 L402.7 556.1 L403.2 554.4 L403.6 552.8 L404.1 551.1 L404.6 549.5 L405.1 547.9 L405.6 546.4 L406.1 545 L406.6 543.5 L407.2 541.9 L407.8 540 L408.5 537.8 L409.2 535.4 L410 532.9 L410.8 530.3 L411.5 527.9 L412.2 525.6 L412.8 523.6 L413.4 521.7 L413.9 520 L414.4 518.2 L415 516.4 L415.7 514.4 L416.5 512.2 L417.4 509.8 L418.3 507.4 L419.3 505 L420.3 502.7 L421.3 500.8 L422.3 499.2 L423.3 497.8 L424.3 496.5 L425.4 495.4 L426.6 494.4 L427.8 493.3 L429.2 492.3 L430.8 491.3 L432.4 490.4 L434 489.5 L435.6 488.7 L437 487.8 L438.2 487 L439.4 486.2 L440.4 485.5 L441.4 484.7 L442.4 483.9 L443.5 483 L444.6 482 L445.7 480.9 L446.8 479.8 L447.9 478.7 L449 477.5 L450 476.3 L451 475.1 L452 473.9 L452.9 472.6 L453.9 471.4 L454.8 470.1 L455.6 468.8 L456.4 467.6 L457 466.4 L457.7 465.2 L458.3 464 L459 462.6 L459.8 461 L460.7 459.2 L461.7 457.2 L462.8 455.1 L463.9 452.9 L464.9 450.7 L466 448.5 L467 446.3 L468.1 444.1 L469.2 441.8 L470.2 439.5 L471.3 437.3 L472.3 435 L473.3 432.7 L474.4 430.3 L475.4 427.9 L476.4 425.6 L477.5 423.5 L478.5 421.5 L479.5 419.8 L480.6 418.2 L481.6 416.8 L482.6 415.5 L483.7 414.3 L484.8 413.1 L486 412 L487.2 410.9 L488.4 409.9 L489.6 408.9 L490.9 408.1 L492.1 407.4 L493.3 406.8 L494.5 406.3 L495.8 405.9 L497 405.6 L498.2 405.4 L499.4 405.3 L500.6 405.3 L501.8 405.3 L503 405.5 L504.2 405.7 L505.4 406 L506.7 406.4 L508 406.8 L509.4 407.3 L510.8 407.9 L512.2 408.6 L513.6 409.2 L515 410 L516.4 410.8 L517.7 411.5 L519 412.4 L520.4 413.3 L521.8 414.4 L523.3 415.7 L524.9 417.2 L526.6 418.9 L528.4 420.8 L530.2 422.7 L532 424.7 L533.8 426.7 L535.5 428.7 L537.3 430.8 L539 432.9 L540.7 435.1 L542.5 437.2 L544.2 439.2 L545.9 441.2 L547.7 443.2 L549.4 445.1 L551.1 447 L552.9 448.8 L554.6 450.6 L556.3 452.3 L558.1 454 L559.8 455.6 L561.5 457.1 L563.3 458.6 L565 460 L566.7 461.4 L568.5 462.7 L570.2 464 L571.9 465.2 L573.7 466.3 L575.4 467.3 L577.1 468.2 L578.9 469 L580.6 469.7 L582.3 470.3 L584.1 470.9 L585.8 471.5 L587.5 472.1 L589.3 472.6 L591 473.1 L592.8 473.6 L594.6 474 L596.3 474.4 L598 474.8 L599.7 475.1 L601.3 475.4 L603 475.6 L604.8 475.9 L606.7 476.1 L608.6 476.3 L610.3 476.5 L612.1 476.7 L614.2 476.9 L616.8 477 L620 477.2 L623.9 477.4 L628.4 477.5 L633.3 477.6 L638.6 477.8 L644.2 477.9 L650 478 L655.3 478.1 L660 478.2 L665 478.2 L671.1 478.3 L679.2 478.3 L690 478.3 L704.4 478.3 L721.9 478.3 L741.2 478.2 L761.5 478.2 L781.4 478.2 L800 478.1 L817.5 478.1 L834.8 478 L851.9 478 L868.5 477.9 L884.6 477.8 L900 477.7 L914 477.5 L926.7 477.4 L938.8 477.1 L951.1 476.9 L964.6 476.8 L980 476.6 L997.3 476.5 L1015.9 476.4 L1035.6 476.4 L1056.3 476.3 L1077.8 476.3 L1100 476.2 L1123.3 476.1 L1147.8 476 L1173.1 475.9 L1198.9 475.9 L1224.7 475.8 L1250 475.7 L1275 475.6 L1300 475.6 L1325 475.5 L1350 475.5 L1375 475.4 L1400 475.4 L1426.7 475.4 L1455.6 475.3 L1484.4 475.3 L1511.1 475.3 L1533.7 475.3 L1550 475.3"/>
<path stroke="#000000" d="M348.2 518.4 L367.5 512.3 M373.5 500.4 L392.8 494.4 M423.1 489.7 L424.9 489.7 L427.6 489.6 L430.5 489.6 L433.3 489.5 L436.1 489.4 L439 489.4 L441.7 489.3 L443.5 489.3 M473.3 487.1 L475.2 487 L477.8 486.9 L480.7 486.7 L483.5 486.6 L486.3 486.5 L489.3 486.3 L491.9 486.2 L493.7 486.1 M523.5 484.4 L525.4 484.4 L528 484.2 L531 484.1 L533.7 484 L536.5 483.9 L539.5 483.7 L542.1 483.6 L543.9 483.5 M573.8 482.1 L575.6 482 L578.2 481.9 L581.2 481.8 L584 481.7 L586.7 481.6 L589.7 481.5 L592.3 481.4 L594.2 481.3 M624 479.7 L625.8 479.7 L628.4 479.6 L631.4 479.5 L634.2 479.4 L637 479.3 L639.9 479.2 L642.5 479.2 L644.4 479.1 M674.2 478.6 L676 478.6 L678.7 478.6 L681.6 478.5 L684.4 478.5 L687.2 478.5 L690.1 478.4 L692.8 478.4 L694.6 478.4 M724.4 478.2 L726.3 478.2 L728.9 478.2 L731.8 478.2 L734.6 478.2 L737.4 478.2 L740.4 478.2 L743 478.1 L744.8 478.1 M774.6 478 L776.5 478 L779.1 478 L782.1 478 L784.8 478 L787.6 478 L790.6 478 L793.2 478 L795 478 M824.9 477.9 L826.7 477.9 L829.3 477.8 L832.3 477.8 L835.1 477.8 L837.8 477.8 L840.8 477.8 L843.4 477.8 L845.3 477.8 M875.1 477.7 L876.9 477.7 L879.5 477.7 L882.5 477.7 L885.3 477.7 L888.1 477.6 L891 477.6 L893.6 477.6 L895.5 477.6 M925.3 477.2 L927.1 477.2 L929.8 477.2 L932.7 477.1 L935.5 477.1 L938.3 477 L941.2 477 L943.9 476.9 L945.7 476.9 M975.5 476.5 L977.4 476.5 L980 476.4 L982.9 476.4 L985.7 476.4 L988.5 476.4 L991.5 476.4 L994.1 476.4 L995.9 476.3 M1025.7 476.2 L1027.6 476.2 L1030.2 476.2 L1033.2 476.2 L1035.9 476.2 L1038.7 476.2 L1041.7 476.2 L1044.3 476.2 L1046.1 476.2 M1076 476.1 L1077.8 476.1 L1080.4 476.1 L1083.4 476.1 L1086.2 476 L1088.9 476 L1091.9 476 L1094.5 476 L1096.4 476 M1126.2 475.9 L1128 475.9 L1130.6 475.9 L1133.6 475.9 L1136.4 475.9 L1139.2 475.9 L1142.1 475.9 L1144.7 475.9 L1146.6 475.8 M1176.4 475.7 L1178.2 475.7 L1180.9 475.7 L1183.8 475.7 L1186.6 475.7 L1189.4 475.7 L1192.3 475.7 L1195 475.7 L1196.8 475.7 M1226.6 475.6 L1228.5 475.6 L1231.1 475.6 L1234 475.6 L1236.8 475.5 L1239.6 475.5 L1242.6 475.5 L1245.2 475.5 L1247 475.5 M1276.8 475.5 L1278.7 475.5 L1281.3 475.5 L1284.3 475.5 L1287 475.5 L1289.8 475.5 L1292.8 475.5 L1295.4 475.5 L1297.2 475.5 M1327.1 475.4 L1328.9 475.4 L1331.5 475.4 L1334.5 475.4 L1337.3 475.4 L1340 475.4 L1343 475.4 L1345.6 475.4 L1347.5 475.4 M1377.3 475.4 L1379.1 475.4 L1381.7 475.4 L1384.7 475.4 L1387.5 475.4 L1390.3 475.4 L1393.2 475.4 L1395.8 475.4 L1397.7 475.4 M1427.5 475.3 L1429.3 475.3 L1432 475.3 L1434.9 475.3 L1437.7 475.3 L1440.5 475.3 L1443.4 475.3 L1446.1 475.3 L1447.9 475.3 M1477.7 475.3 L1479.6 475.3 L1482.2 475.3 L1485.1 475.3 L1487.9 475.3 L1490.7 475.3 L1493.7 475.3 L1496.3 475.3 L1498.1 475.3 M1527.9 475.2 L1529.8 475.2 L1532.4 475.2 L1535.4 475.2 L1538.1 475.2 L1540.9 475.2 L1543.9 475.2 L1546.5 475.2 L1548.3 475.2 M395.4 507.7 L397.2 507.5 L399.9 507.3 L402.8 507.1 L405.6 506.9 L408.4 506.7 L411.3 506.5 L414 506.3 L415.8 506.2 M445.8 502.4 L447.6 502.3 L450.2 502.1 L453.2 501.9 L455.9 501.7 L458.7 501.6 L461.7 501.4 L464.3 501.2 L466.1 501.1 M496.1 498.4 L497.9 498.3 L500.6 498.2 L503.5 498 L506.3 497.8 L509.1 497.7 L512 497.5 L514.7 497.4 L516.5 497.3 M546.5 494.8 L548.3 494.7 L550.9 494.5 L553.9 494.3 L556.7 494.1 L559.4 493.9 L562.4 493.8 L565 493.6 L566.9 493.5 M596.8 490.4 L598.6 490.2 L601.3 490.1 L604.2 489.9 L607 489.7 L609.8 489.5 L612.7 489.3 L615.4 489.1 L617.2 489 M647.1 487.4 L649 487.4 L651.6 487.2 L654.6 487.1 L657.3 487 L660.1 486.8 L663.1 486.7 L665.7 486.6 L667.5 486.5 M697.5 485.6 L699.3 485.6 L702 485.5 L704.9 485.4 L707.7 485.4 L710.5 485.3 L713.4 485.2 L716.1 485.1 L717.9 485.1 M747.8 484.3 L749.7 484.3 L752.3 484.2 L755.3 484.1 L758 484.1 L760.8 484 L763.8 483.9 L766.4 483.9 L768.2 483.8 M798.2 483 L800 483 L802.7 482.9 L805.6 482.9 L808.4 482.8 L811.2 482.7 L814.1 482.7 L816.8 482.6 L818.6 482.6 M848.5 481.9 L850.4 481.9 L853 481.8 L856 481.7 L858.8 481.7 L861.5 481.6 L864.5 481.6 L867.1 481.5 L868.9 481.5 M898.9 480.8 L900.7 480.7 L903.4 480.7 L906.3 480.6 L909.1 480.5 L911.9 480.5 L914.8 480.4 L917.5 480.4 L919.3 480.3 M949.2 479.6 L951.1 479.6 L953.7 479.5 L956.7 479.5 L959.5 479.4 L962.2 479.4 L965.2 479.3 L967.8 479.2 L969.6 479.2 M999.6 478.9 L1001.4 478.9 L1004.1 478.9 L1007 478.8 L1009.8 478.8 L1012.6 478.8 L1015.5 478.8 L1018.2 478.8 L1020 478.8 M1050 478.6 L1051.8 478.6 L1054.4 478.6 L1057.4 478.6 L1060.2 478.5 L1062.9 478.5 L1065.9 478.5 L1068.5 478.5 L1070.4 478.5 M1100.3 478.3 L1102.1 478.3 L1104.8 478.3 L1107.7 478.3 L1110.5 478.3 L1113.3 478.3 L1116.2 478.2 L1118.9 478.2 L1120.7 478.2 M1150.7 478 L1152.5 478 L1155.1 478 L1158.1 478 L1160.9 478 L1163.6 478 L1166.6 478 L1169.2 477.9 L1171.1 477.9 M1201 477.8 L1202.8 477.8 L1205.5 477.7 L1208.4 477.7 L1211.2 477.7 L1214 477.7 L1216.9 477.7 L1219.6 477.7 L1221.4 477.7 M1251.3 477.5 L1253.2 477.5 L1255.8 477.5 L1258.8 477.5 L1261.5 477.5 L1264.3 477.5 L1267.3 477.5 L1269.9 477.5 L1271.8 477.5 M1301.7 477.4 L1303.5 477.4 L1306.2 477.4 L1309.1 477.4 L1311.9 477.4 L1314.7 477.4 L1317.6 477.4 L1320.3 477.4 L1322.1 477.4 M1352 477.3 L1353.9 477.3 L1356.5 477.3 L1359.5 477.3 L1362.2 477.3 L1365 477.3 L1368 477.3 L1370.6 477.3 L1372.5 477.3 M1402.4 477.2 L1404.2 477.2 L1406.9 477.2 L1409.8 477.2 L1412.6 477.2 L1415.4 477.2 L1418.3 477.2 L1421 477.2 L1422.8 477.2 M1452.8 477.2 L1454.6 477.2 L1457.2 477.2 L1460.2 477.1 L1463 477.1 L1465.7 477.1 L1468.7 477.1 L1471.3 477.1 L1473.2 477.1 M1503.1 477.1 L1504.9 477.1 L1507.6 477.1 L1510.5 477.1 L1513.3 477.1 L1516.1 477.1 L1519 477.1 L1521.7 477 L1523.5 477"/>
</g>
<g fill="none" stroke-linecap="round" stroke-width="7">
<path stroke="#0000ff" d="M772.4 36.6 H861.7"/>
<path stroke="#0000ff" d="M772.4 87.2 H792.5 M822.3 87.2 H843.6"/>
<path stroke="#ff0000" d="M772.4 137.8 H861.7"/>
<path stroke="#ff0000" d="M772.4 188.3 H792.5 M822.3 188.3 H843.6"/>
<path stroke="#000000" d="M772.4 238.9 H861.7"/>
<path stroke="#000000" d="M772.4 289.5 H792.5 M822.3 289.5 H843.6"/>
</g>
<g font-size="40">
<text y="51"><tspan x="870.9">FTO/CdS-HTa400 </tspan><tspan x="1178.6" textLength="181.6" lengthAdjust="spacing">(HCOONa </tspan><tspan x="1362.2" textLength="65.2" lengthAdjust="spacing">1M)</tspan></text>
<text y="101.4"><tspan x="870.9">FTO/CdS-HTa400 </tspan><tspan x="1178.6" textLength="181.6" lengthAdjust="spacing">(HCOONa </tspan><tspan x="1362.2" textLength="73" lengthAdjust="spacing">1M, </tspan><tspan x="1435.4">MO </tspan><tspan x="1510" textLength="48" lengthAdjust="spacing">10 </tspan><tspan x="1557.2" textLength="83.2" lengthAdjust="spacing">ppm)</tspan></text>
<text y="151.7"><tspan x="870.9">FTO/CdS-HT </tspan><tspan x="1101.9" textLength="181.6" lengthAdjust="spacing">(HCOONa </tspan><tspan x="1285.5" textLength="65.2" lengthAdjust="spacing">1M)</tspan></text>
<text y="202.1"><tspan x="870.9">FTO/CdS-HT </tspan><tspan x="1101.9" textLength="181.6" lengthAdjust="spacing">(HCOONa </tspan><tspan x="1285.5" textLength="73" lengthAdjust="spacing">1M, </tspan><tspan x="1358.7">MO </tspan><tspan x="1433.3" textLength="48" lengthAdjust="spacing">10 </tspan><tspan x="1480.5" textLength="83.2" lengthAdjust="spacing">ppm)</tspan></text>
<text y="252.4"><tspan x="870.9" textLength="376.6" lengthAdjust="spacing">FTO/CdS(commercial) </tspan><tspan x="1248.1" textLength="181.6" lengthAdjust="spacing">(HCOONa </tspan><tspan x="1431.7" textLength="65.2" lengthAdjust="spacing">1M)</tspan></text>
<text y="302.8"><tspan x="870.9" textLength="376.6" lengthAdjust="spacing">FTO/CdS(commercial) </tspan><tspan x="1248.1" textLength="181.6" lengthAdjust="spacing">(HCOONa </tspan><tspan x="1431.7" textLength="73" lengthAdjust="spacing">1M, </tspan><tspan x="1504.9">MO </tspan><tspan x="1579.5" textLength="48" lengthAdjust="spacing">10 </tspan><tspan x="1626.7" textLength="83.2" lengthAdjust="spacing">ppm)</tspan></text>
</g>
</svg></body></html>
